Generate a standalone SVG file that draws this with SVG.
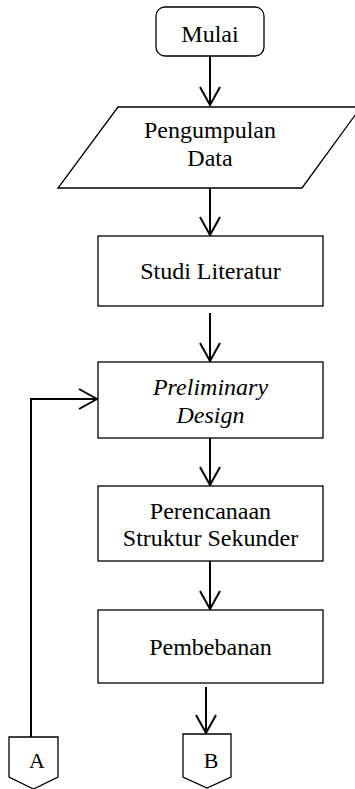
<svg xmlns="http://www.w3.org/2000/svg" width="355" height="789" viewBox="0 0 355 789">
<style>
.shape{fill:#fff;stroke:#000;stroke-width:1.3}
.t{font-family:"Liberation Serif","Times New Roman",serif;font-size:24px;fill:#000;text-anchor:middle}
.i{font-style:italic}
.c{fill:none;stroke:#000;stroke-width:2}
</style>
<defs>
<marker id="ah" viewBox="-20 -12 22 24" refX="0" refY="0" markerWidth="22" markerHeight="24" markerUnits="userSpaceOnUse" orient="auto">
<path d="M-18,-10 L0,0 L-18,10" fill="none" stroke="#000" stroke-width="2"/>
</marker>
</defs>
<rect width="355" height="789" fill="#fff"/>
<g id="connectors">
<line class="c" x1="210" y1="56" x2="210" y2="105" marker-end="url(#ah)"/>
<line class="c" x1="210" y1="188" x2="210" y2="235" marker-end="url(#ah)"/>
<line class="c" x1="210" y1="313" x2="210" y2="361" marker-end="url(#ah)"/>
<line class="c" x1="210" y1="438" x2="210" y2="485" marker-end="url(#ah)"/>
<line class="c" x1="210" y1="561" x2="210" y2="609" marker-end="url(#ah)"/>
<line class="c" x1="206" y1="687" x2="206" y2="733" marker-end="url(#ah)"/>
<polyline class="c" points="31,737 31,399 97,399" marker-end="url(#ah)"/>
</g>
<g id="mulai">
<rect class="shape" x="156" y="7" width="108" height="49" rx="9"/>
<text class="t" x="210" y="42">Mulai</text>
</g>
<g id="pengumpulan-data">
<polygon class="shape" points="118,107 361,107 302,188 58,188"/>
<text class="t" x="210" y="138">Pengumpulan</text>
<text class="t" x="210" y="166">Data</text>
</g>
<g id="studi-literatur">
<rect class="shape" x="98" y="236" width="225" height="70"/>
<text class="t" x="210.5" y="279">Studi Literatur</text>
</g>
<g id="preliminary-design">
<rect class="shape" x="98" y="362" width="225" height="76"/>
<text class="t i" x="210.5" y="395">Preliminary</text>
<text class="t i" x="210.5" y="423">Design</text>
</g>
<g id="perencanaan">
<rect class="shape" x="98" y="486" width="225" height="75"/>
<text class="t" x="210.5" y="519">Perencanaan</text>
<text class="t" x="210.5" y="546">Struktur Sekunder</text>
</g>
<g id="pembebanan">
<rect class="shape" x="98" y="610" width="225" height="73"/>
<text class="t" x="210.5" y="655">Pembebanan</text>
</g>
<g id="connector-a">
<polygon class="shape" points="9,737 58,737 58,777 33.5,789 9,777"/>
<text class="t" x="37" y="768" style="font-size:22px">A</text>
</g>
<g id="connector-b">
<polygon class="shape" points="183,734 231,734 231,777 207,788 183,777"/>
<text class="t" x="211" y="768" style="font-size:22px">B</text>
</g>
</svg>
